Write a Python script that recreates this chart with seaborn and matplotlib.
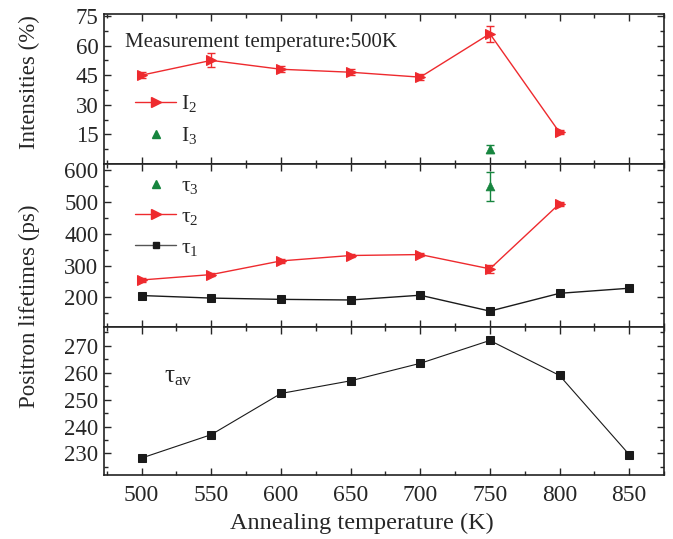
import numpy as np
import pandas as pd
import matplotlib
matplotlib.use("Agg")
import matplotlib.pyplot as plt
import seaborn as sns
from matplotlib.ticker import MultipleLocator
from matplotlib.lines import Line2D

# ---- data ----
temps = [500, 550, 600, 650, 700, 750, 800, 850]
I2_T = [500, 550, 600, 650, 700, 750, 800]
I2 = [45, 52.5, 48, 46.5, 44, 66, 16]
I2_err = [1.5, 3.5, 1.5, 1.5, 1.5, 4.0, 1.0]
I3_T = [750]
I3 = [7.5]
I3_err = [2.0]

tau3_T = [750]
tau3 = [550]
tau3_err = [45]
tau2_T = [500, 550, 600, 650, 700, 750, 800]
tau2 = [255, 272, 315, 332, 335, 290, 495]
tau2_err = [5, 6, 6, 5, 5, 12, 6]
tau1_T = [500, 550, 600, 650, 700, 750, 800, 850]
tau1 = [206, 198, 194, 192, 207, 157, 213, 229]
tau1_err = [4, 4, 4, 4, 4, 10, 4, 4]

tauav_T = [500, 550, 600, 650, 700, 750, 800, 850]
tauav = [228.3, 237, 252.3, 257, 263.5, 272, 259, 229.6]

xticks = [500, 550, 600, 650, 700, 750, 800, 850]

# ---- style ----
sns.set_style("ticks")
plt.rcParams['font.family'] = ['Liberation Serif', 'DejaVu Serif']
plt.rcParams['mathtext.fontset'] = 'custom'
plt.rcParams['mathtext.rm'] = 'Liberation Serif'
plt.rcParams['mathtext.it'] = 'Liberation Serif'
TICK_FS = 16.5
LAB_FS = 16.5
LEG_FS = 15.5

RED = '#ee2a2e'
GREEN = '#17853f'
BLACK = '#1a1a1a'

fig = plt.figure(figsize=(6.73, 5.39), dpi=100)
L, R = 104/673, 664/673
def yf(p):
    return 1 - p/539
ax1 = fig.add_axes([L, yf(164), R-L, yf(14)-yf(164)])
ax2 = fig.add_axes([L, yf(327), R-L, yf(164)-yf(327)], sharex=ax1)
ax3 = fig.add_axes([L, yf(475), R-L, yf(327)-yf(475)], sharex=ax1)

# top panel
sns.lineplot(x=I2_T, y=I2, ax=ax1, color=RED, lw=1, marker='>', markersize=7.5,
             markeredgecolor=RED, markerfacecolor=RED)
ax1.errorbar(I2_T, I2, yerr=I2_err, fmt='none', ecolor=RED, elinewidth=1, capsize=3)
sns.scatterplot(x=I3_T, y=I3, ax=ax1, color=GREEN, marker='^', s=40, edgecolor=GREEN)
ax1.errorbar(I3_T, I3, yerr=I3_err, fmt='none', ecolor=GREEN, elinewidth=1, capsize=3)
ax1.set_ylim(0, 76)
ax1.set_yticks([15, 30, 45, 60, 75])
ax1.yaxis.set_minor_locator(MultipleLocator(7.5))
ax1.text(0.038, 0.81, 'Measurement temperature:500K', transform=ax1.transAxes,
         fontsize=15, va='center', ha='left')
h1 = [Line2D([], [], color=RED, lw=1, marker='>', markersize=7),
      Line2D([], [], color=GREEN, lw=0, marker='^', markersize=6)]
ax1.legend(h1, ['I$_2$', 'I$_3$'], loc='upper left', bbox_to_anchor=(0.021, 0.60),
           frameon=False, fontsize=LEG_FS, handlelength=1.9, labelspacing=0.5,
           handletextpad=0.25)

# middle panel
sns.lineplot(x=tau2_T, y=tau2, ax=ax2, color=RED, lw=1, marker='>', markersize=7.5,
             markeredgecolor=RED, markerfacecolor=RED)
ax2.errorbar(tau2_T, tau2, yerr=tau2_err, fmt='none', ecolor=RED, elinewidth=1, capsize=3)
sns.lineplot(x=tau1_T, y=tau1, ax=ax2, color=BLACK, lw=1, marker='s', markersize=6,
             markeredgecolor=BLACK, markerfacecolor=BLACK)
ax2.errorbar(tau1_T, tau1, yerr=tau1_err, fmt='none', ecolor=BLACK, elinewidth=1, capsize=3)
sns.scatterplot(x=tau3_T, y=tau3, ax=ax2, color=GREEN, marker='^', s=40, edgecolor=GREEN)
ax2.errorbar(tau3_T, tau3, yerr=tau3_err, fmt='none', ecolor=GREEN, elinewidth=1, capsize=3)
ax2.set_ylim(107, 620)
ax2.set_yticks([200, 300, 400, 500, 600])
ax2.yaxis.set_minor_locator(MultipleLocator(50))
h2 = [Line2D([], [], color=GREEN, lw=0, marker='^', markersize=6),
      Line2D([], [], color=RED, lw=1, marker='>', markersize=7),
      Line2D([], [], color='#555555', lw=1, marker='s', markersize=5,
             markerfacecolor=BLACK, markeredgecolor=BLACK)]
ax2.legend(h2, [r'$\tau_3$', r'$\tau_2$', r'$\tau_1$'], loc='upper left',
           bbox_to_anchor=(0.021, 1.045), frameon=False, fontsize=LEG_FS,
           handlelength=1.9, labelspacing=0.5, handletextpad=0.25)

# bottom panel
sns.lineplot(x=tauav_T, y=tauav, ax=ax3, color=BLACK, lw=0.8, marker='s', markersize=6,
             markeredgecolor=BLACK, markerfacecolor=BLACK)
ax3.set_ylim(222, 277)
ax3.set_yticks([230, 240, 250, 260, 270])
ax3.yaxis.set_minor_locator(MultipleLocator(5))
ax3.text(0.107, 0.66, r'$\tau_{\mathrm{av}}$', transform=ax3.transAxes,
         fontsize=18, va='center', ha='left')
ax3.set_xlabel('Annealing temperature (K)', fontsize=17.5, labelpad=8)
ax3.xaxis.set_label_coords(0.46, -0.255)

ax1.set_xlim(473, 875)
ax3.set_xticks(xticks)
for ax in (ax1, ax2, ax3):
    ax.xaxis.set_minor_locator(MultipleLocator(25))
    ax.tick_params(which='both', direction='in', top=True, right=True,
                   labelsize=TICK_FS, width=1, pad=4)
    ax.tick_params(which='major', length=5)
    ax.tick_params(which='minor', length=3)
    ax.set_ylabel('')
    for s in ax.spines.values():
        s.set_linewidth(1.2)
        s.set_color('#222222')
ax3.tick_params(axis='x', labelsize=17, pad=7)
for ax in (ax1, ax2):
    ax.tick_params(labelbottom=False)
    ax.set_xlabel('')

fig.text(29/673, yf(82), 'Intensities (%)', rotation=90, ha='center', va='center',
         fontsize=LAB_FS)
fig.text(29/673, yf(306), 'Positron lifetimes (ps)', rotation=90, ha='center',
         va='center', fontsize=LAB_FS)

fig.savefig('out.png', dpi=100)
